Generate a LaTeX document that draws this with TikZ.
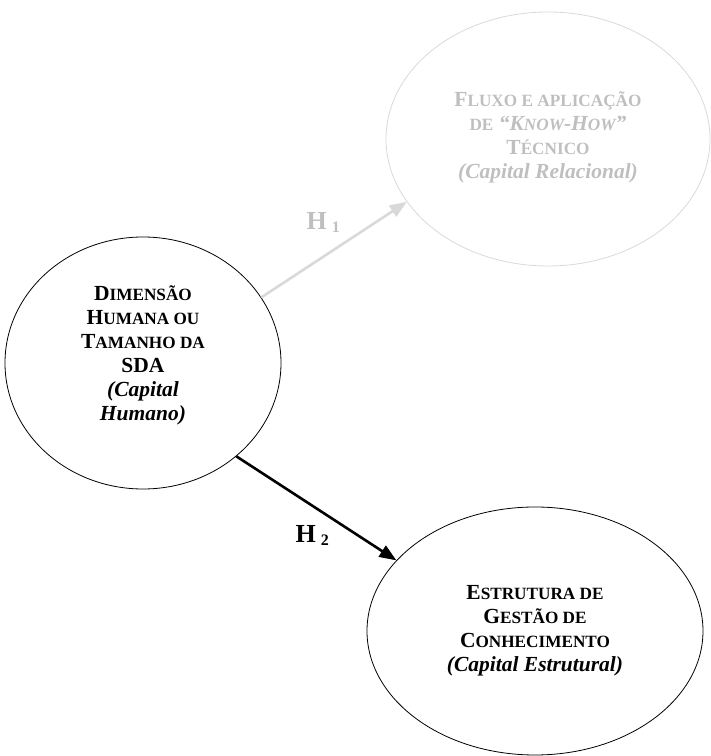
\documentclass[tikz,border=0pt]{standalone}
\usepackage{fontspec}
\setmainfont{Liberation Serif}
\usetikzlibrary{arrows.meta,shapes.geometric}
\definecolor{faint}{RGB}{191,191,191}
\definecolor{faintline}{RGB}{217,217,217}
% synthetic small capitals: the rest of a word in reduced capitals
\newcommand\smc[1]{{\fontsize{17.2}{24}\selectfont #1}}
\begin{document}
\begin{tikzpicture}[x=1pt,y=1pt,
  concept/.style={ellipse, draw, line width=0.8pt, inner sep=0pt, align=center,
    font=\fontsize{21.5}{24}\selectfont\bfseries},
  link/.style={line width=2.6pt, -{Triangle[length=17pt,width=13pt]}},
  hyp/.style={anchor=base west, font=\fontsize{26}{28}\selectfont\bfseries}]
\useasboundingbox (0,0) rectangle (711,756);

% the three constructs
\node[concept, text depth=19pt, minimum width=276, minimum height=252] (hum) at (143,393)
  {D\smc{IMENSÃO}\\ H\smc{UMANA OU}\\ T\smc{AMANHO DA}\\ SDA\\
   \textit{(Capital}\\ \textit{Humano)}};
\node[concept, text depth=7pt, draw=faintline, text=faint, minimum width=324, minimum height=254] (rel) at (548,617)
  {F\smc{LUXO E APLICAÇÃO}\\ \smc{DE} \textit{“K\smc{NOW}-H\smc{OW}”}\\
   T\smc{ÉCNICO}\\ \textit{(Capital Relacional)}};
\node[concept, text depth=5pt, minimum width=336, minimum height=248] (est) at (535,125)
  {E\smc{STRUTURA DE}\\ G\smc{ESTÃO DE}\\ C\smc{ONHECIMENTO}\\
   \textit{(Capital Estrutural)}};

% hypotheses
\draw[link, draw=faintline, fill=faintline] (hum.29.5) -- (rel.204);
\draw[link] (hum.-45.6) -- (est.153);

\node[hyp, text=faint] (h1) at (303,526)
  {H\hspace{5pt}\raisebox{-3pt}{\fontsize{16}{16}\selectfont 1}};
\node[hyp] (h2) at (292,213)
  {H\hspace{5pt}\raisebox{-3pt}{\fontsize{16}{16}\selectfont 2}};
\end{tikzpicture}
\end{document}
